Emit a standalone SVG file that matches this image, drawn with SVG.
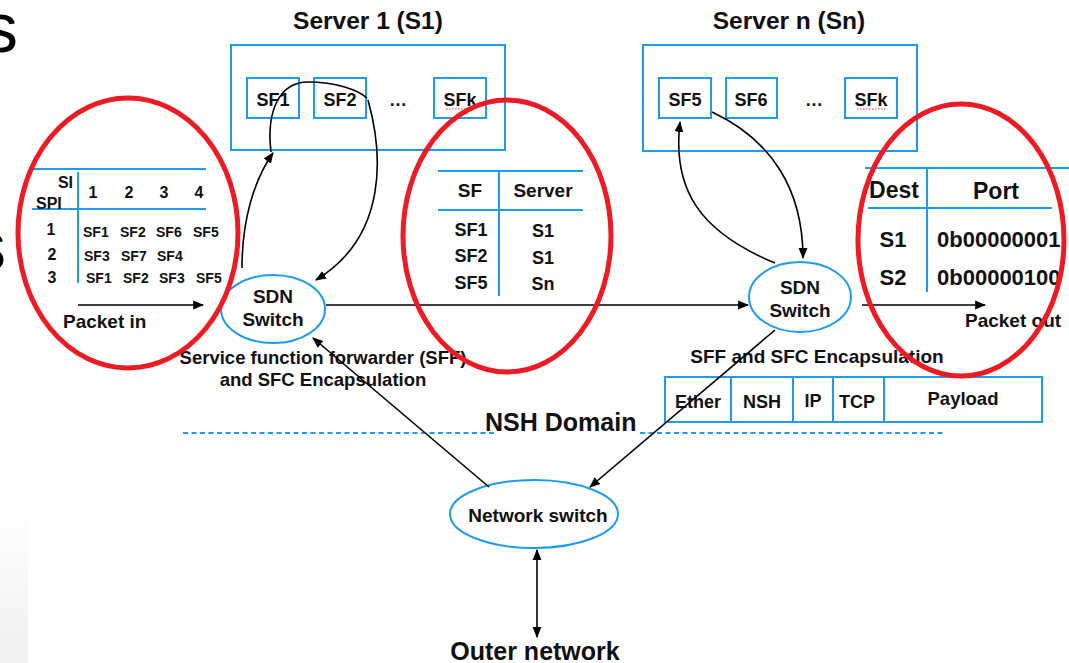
<svg xmlns="http://www.w3.org/2000/svg" width="1069" height="663" viewBox="0 0 1069 663">
  <defs>
    <marker id="arrow" viewBox="0 0 10 10" refX="9" refY="5" markerWidth="11" markerHeight="11" markerUnits="userSpaceOnUse" orient="auto-start-reverse">
      <path d="M0,1 L10,5 L0,9 Z" fill="#000"/>
    </marker>
    <linearGradient id="edgeFade" x1="0" y1="0" x2="0" y2="1">
      <stop offset="0" stop-color="#ffffff"/>
      <stop offset="1" stop-color="#f0f0f0"/>
    </linearGradient>
  </defs>
  <style>
    text { font-family: "Liberation Sans", Arial, sans-serif; font-weight: bold; fill: #111; }
    .mid { text-anchor: middle; }
    .blue { fill: none; stroke: #1e9bf0; stroke-width: 2; }
    .grid { stroke: #1e9bf0; stroke-width: 2; }
    .red { fill: none; stroke: #ee1b24; stroke-width: 5; }
    .wire { fill: none; stroke: #000; stroke-width: 1.6; }
    .title { font-size: 24.5px; }
    .sf { font-size: 18px; }
    .cell { font-size: 14px; }
    .head { font-size: 16px; }
    .lbl { font-size: 19px; }
    .big { font-size: 25px; }
    .edge { font-weight: normal; font-size: 70px; fill: #000; }
  </style>

  <rect width="1069" height="663" fill="#fff"/>
  <!-- slide margin fragments -->
  <rect x="0" y="505" width="28" height="158" fill="url(#edgeFade)"/>
  <text class="edge" x="-17" y="52">s</text>
  <text class="edge" x="-29" y="270">s</text>

  <!-- Server 1 -->
  <g id="server1">
    <text class="title mid" x="368" y="29">Server 1 (S1)</text>
    <rect class="blue" x="231" y="45" width="274" height="105"/>
    <rect class="blue" x="247" y="78" width="52" height="40"/>
    <text class="sf mid" x="273" y="106">SF1</text>
    <rect class="blue" x="314" y="78" width="52" height="40"/>
    <text class="sf mid" x="340" y="106">SF2</text>
    <text class="sf mid" x="398" y="106">…</text>
    <rect class="blue" x="434" y="78" width="52" height="40"/>
    <text class="sf mid" x="460" y="106">SFk</text>
    <path d="M446,109 h28" stroke="#e33" stroke-width="1" stroke-dasharray="1.5,1.5"/>
  </g>

  <!-- Server n -->
  <g id="servern">
    <text class="title mid" x="789" y="29">Server n (Sn)</text>
    <rect class="blue" x="643" y="45" width="274" height="106"/>
    <rect class="blue" x="659" y="78" width="52" height="40"/>
    <text class="sf mid" x="685" y="106">SF5</text>
    <rect class="blue" x="726" y="78" width="51" height="40"/>
    <text class="sf mid" x="751" y="106">SF6</text>
    <text class="sf mid" x="814" y="106">…</text>
    <rect class="blue" x="845" y="78" width="52" height="40"/>
    <text class="sf mid" x="871" y="106">SFk</text>
    <path d="M857,109 h28" stroke="#e33" stroke-width="1" stroke-dasharray="1.5,1.5"/>
  </g>

  <!-- SPI / SI table -->
  <g id="spi-table">
    <line class="grid" x1="33" y1="169" x2="206" y2="169"/>
    <line class="grid" x1="32" y1="209" x2="206" y2="209"/>
    <line class="grid" x1="78" y1="172" x2="78" y2="283"/>
    <text class="head" x="73" y="188" text-anchor="end">SI</text>
    <text class="head" x="36" y="209">SPI</text>
    <text class="head mid" x="93" y="198">1</text>
    <text class="head mid" x="129" y="198">2</text>
    <text class="head mid" x="164" y="198">3</text>
    <text class="head mid" x="199" y="198">4</text>
    <text class="head mid" x="51" y="235">1</text>
    <text class="head mid" x="52" y="260">2</text>
    <text class="head mid" x="52" y="283">3</text>
    <text class="cell" x="83" y="237">SF1</text>
    <text class="cell" x="120" y="237">SF2</text>
    <text class="cell" x="156" y="237">SF6</text>
    <text class="cell" x="193" y="237">SF5</text>
    <text class="cell" x="84" y="261">SF3</text>
    <text class="cell" x="121" y="261">SF7</text>
    <text class="cell" x="157" y="261">SF4</text>
    <text class="cell" x="86" y="283">SF1</text>
    <text class="cell" x="123" y="283">SF2</text>
    <text class="cell" x="159" y="283">SF3</text>
    <text class="cell" x="196" y="283">SF5</text>
    <text class="lbl" x="63" y="328">Packet in</text>
  </g>

  <!-- SF to server table -->
  <g id="sf-server-table">
    <line class="grid" x1="438" y1="171" x2="583" y2="171"/>
    <line class="grid" x1="438" y1="210" x2="583" y2="210"/>
    <line class="grid" x1="499" y1="172" x2="499" y2="296"/>
    <text class="lbl mid" x="470" y="197">SF</text>
    <text class="lbl mid" x="543" y="197">Server</text>
    <text class="sf mid" x="471" y="236">SF1</text>
    <text class="sf mid" x="543" y="237">S1</text>
    <text class="sf mid" x="471" y="262">SF2</text>
    <text class="sf mid" x="543" y="264">S1</text>
    <text class="sf mid" x="471" y="289">SF5</text>
    <text class="sf mid" x="543" y="290">Sn</text>
  </g>

  <!-- Destination to port table -->
  <g id="port-table">
    <line class="grid" x1="865" y1="168" x2="1069" y2="168"/>
    <line class="grid" x1="868" y1="208" x2="1052" y2="208"/>
    <line class="grid" x1="927" y1="168" x2="927" y2="292"/>
    <text class="mid" x="894" y="198" font-size="23">Dest</text>
    <text class="mid" x="996" y="199" font-size="23">Port</text>
    <text class="mid" x="893" y="247" font-size="22">S1</text>
    <text x="937" y="247" font-size="22">0b00000001</text>
    <text class="mid" x="893" y="285" font-size="22">S2</text>
    <text x="937" y="285" font-size="22">0b00000100</text>
    <text class="lbl" x="965" y="327">Packet out</text>
  </g>

  <!-- SDN switch (SFF) at server 1 -->
  <g id="sdn-switch-1">
    <ellipse class="blue" cx="273" cy="309" rx="52" ry="34"/>
    <text class="lbl mid" x="273" y="303">SDN</text>
    <text class="lbl mid" x="273" y="326">Switch</text>
    <text class="mid" x="323" y="364" font-size="18.5">Service function forwarder (SFF)</text>
    <text class="mid" x="323" y="386" font-size="18.5">and SFC Encapsulation</text>
  </g>

  <!-- SDN switch at server n -->
  <g id="sdn-switch-n">
    <ellipse class="blue" cx="800" cy="297" rx="51" ry="35"/>
    <text class="lbl mid" x="800" y="294">SDN</text>
    <text class="lbl mid" x="800" y="317">Switch</text>
    <text class="lbl mid" x="817" y="363">SFF and SFC Encapsulation</text>
  </g>

  <!-- NSH packet layout -->
  <g id="packet">
    <rect class="blue" x="665" y="377" width="377" height="45"/>
    <line class="grid" x1="731" y1="377" x2="731" y2="422"/>
    <line class="grid" x1="793" y1="377" x2="793" y2="422"/>
    <line class="grid" x1="833" y1="377" x2="833" y2="422"/>
    <line class="grid" x1="884" y1="377" x2="884" y2="422"/>
    <text class="sf mid" x="698" y="408">Ether</text>
    <text class="sf mid" x="762" y="408">NSH</text>
    <text class="sf mid" x="813" y="407">IP</text>
    <text class="sf mid" x="857" y="408">TCP</text>
    <text class="mid" x="963" y="405" font-size="18.5">Payload</text>
  </g>

  <!-- NSH domain boundary -->
  <g id="nsh-domain">
    <path d="M183,433 H497 M640,433 H945" fill="none" stroke="#1e9bf0" stroke-width="2" stroke-dasharray="5,3.5"/>
    <text class="big" x="485" y="431">NSH Domain</text>
  </g>

  <!-- Network switch -->
  <g id="network-switch">
    <ellipse class="blue" cx="534" cy="514" rx="84" ry="34"/>
    <text class="lbl mid" x="538" y="522">Network switch</text>
  </g>

  <g id="outer-network">
    <text class="big mid" x="535" y="660">Outer network</text>
  </g>

  <!-- Connectors -->
  <g id="connectors">
    <line class="wire" x1="78" y1="305" x2="203" y2="305" marker-end="url(#arrow)"/>
    <line class="wire" x1="326" y1="305" x2="748" y2="305" marker-end="url(#arrow)"/>
    <line class="wire" x1="862" y1="305" x2="985" y2="305" marker-end="url(#arrow)"/>
    <path class="wire" d="M242,268 C242,220 254,180 273,153" marker-end="url(#arrow)"/>
    <path class="wire" d="M271,152 C266,110 280,82 308,82 C336,82 358,90 367,98"/>
    <path class="wire" d="M368,100 C382,150 390,235 316,280" marker-end="url(#arrow)"/>
    <path class="wire" d="M775,263 C700,232 672,190 680,122" marker-end="url(#arrow)"/>
    <path class="wire" d="M712,112 C772,140 803,190 803,258" marker-end="url(#arrow)"/>
    <line class="wire" x1="489" y1="487" x2="313" y2="338" marker-end="url(#arrow)"/>
    <line class="wire" x1="775" y1="330" x2="590" y2="487" marker-end="url(#arrow)"/>
    <line class="wire" x1="537" y1="550" x2="537" y2="637" marker-start="url(#arrow)" marker-end="url(#arrow)"/>
  </g>

  <!-- Highlight rings -->
  <g id="highlights">
    <ellipse class="red" cx="128" cy="233" rx="110" ry="135"/>
    <ellipse class="red" cx="507" cy="236" rx="104" ry="136"/>
    <ellipse class="red" cx="961" cy="240" rx="103" ry="136"/>
  </g>
</svg>
